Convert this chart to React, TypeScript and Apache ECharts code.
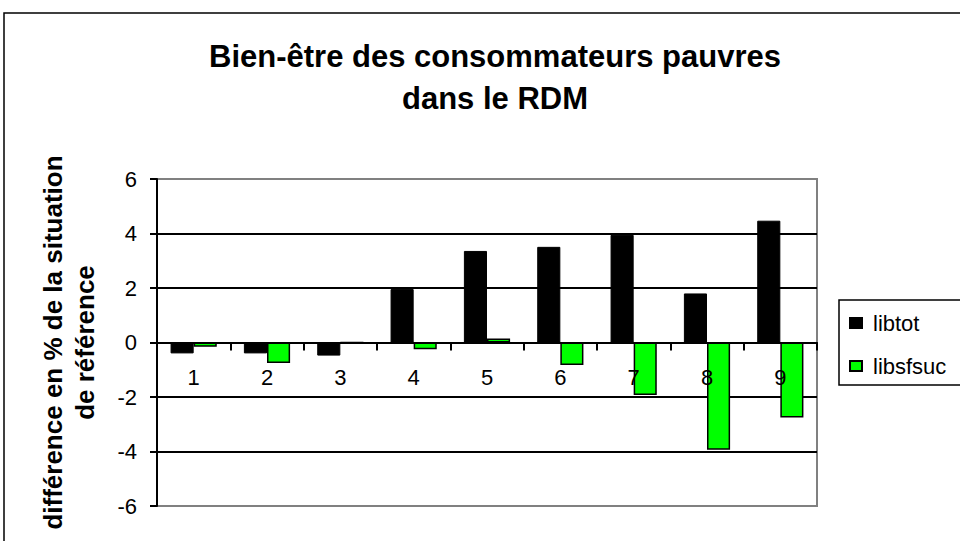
import React, { useEffect, useRef } from "react";
import * as echarts from "echarts";

const categories = ["1", "2", "3", "4", "5", "6", "7", "8", "9"];
const libtot = [-0.4, -0.4, -0.48, 1.96, 3.36, 3.51, 3.95, 1.8, 4.47];
const libsfsuc = [-0.16, -0.75, 0, -0.25, 0.15, -0.83, -1.93, -3.94, -2.75];
const yTicks = { min: -6, max: 6, interval: 2 };

export default function App() {
  const ref = useRef<HTMLDivElement>(null);
  useEffect(() => {
    const chart = echarts.init(ref.current!, undefined, { renderer: "svg" });
    const font = "Liberation Sans, Arial, sans-serif";
    chart.setOption({
      animation: false,
      backgroundColor: "#fff",
      title: {
        text: "Bien-être des consommateurs pauvres\ndans le RDM",
        left: 490,
        textAlign: "center",
        top: 30,
        textStyle: { fontFamily: font, fontWeight: "bold", fontSize: 31, lineHeight: 42, color: "#000" },
      },
      legend: {
        orient: "vertical",
        left: 839,
        top: 300,
        borderColor: "#000",
        borderWidth: 1.5,
        padding: [12, 40, 8, 10],
        itemWidth: 12,
        itemHeight: 10,
        itemGap: 21,
        icon: "rect",
        textStyle: { fontFamily: font, fontSize: 22, color: "#000", padding: [0, 0, 0, 6] },
        data: ["libtot", "libsfsuc"],
      },
      graphic: [
        {
          type: "rect",
          shape: { x: 4, y: 13, width: 1000, height: 600 },
          style: { fill: "none", stroke: "#000", lineWidth: 1.5 },
          silent: true,
        },
      ],
      grid: { left: 157, top: 179, right: 143, bottom: 35, show: true, borderColor: "#808080", borderWidth: 2 },
      xAxis: {
        type: "category",
        data: categories,
        offset: -163.5,
        z: 10,
        axisLine: { onZero: false, lineStyle: { color: "#000", width: 2 } },
        axisTick: { show: true, alignWithLabel: false, length: 8, lineStyle: { color: "#000", width: 2 } },
        axisLabel: { fontFamily: font, fontSize: 22, color: "#000", margin: 24 },
      },
      yAxis: {
        type: "value",
        min: yTicks.min,
        max: yTicks.max,
        interval: yTicks.interval,
        name: "différence en % de la situation\nde référence",
        nameLocation: "middle",
        nameGap: 56,
        nameTextStyle: { fontFamily: font, fontWeight: "bold", fontSize: 26, lineHeight: 32, color: "#000" },
        axisLine: { show: true, lineStyle: { color: "#000", width: 2 } },
        axisTick: { show: true, length: 7, lineStyle: { color: "#000", width: 2 } },
        axisLabel: { fontFamily: font, fontSize: 22, color: "#000", margin: 20 },
        splitLine: {
          show: true,
          lineStyle: { color: ["#808080", "#000", "#000", "#000", "#000", "#000", "#808080"], width: 2 },
        },
      },
      series: [
        {
          name: "libtot",
          type: "bar",
          data: libtot,
          barGap: "0%",
          barCategoryGap: "37%",
          itemStyle: { color: "#000", borderColor: "#000", borderWidth: 1 },
        },
        {
          name: "libsfsuc",
          type: "bar",
          data: libsfsuc,
          itemStyle: { color: "#00ff00", borderColor: "#000", borderWidth: 1.5 },
        },
      ],
    });
    return () => chart.dispose();
  }, []);
  return (
    <div
      ref={ref}
      style={{ position: "absolute", left: 0, top: 0, width: 960, height: 541 }}
    />
  );
}
